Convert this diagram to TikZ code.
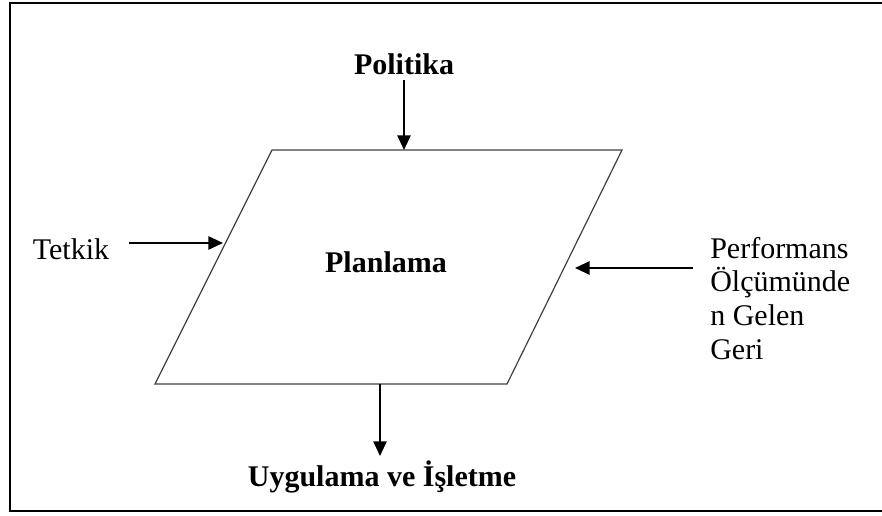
\documentclass[tikz,border=0pt]{standalone}
\usepackage{fontspec}
\setmainfont{Liberation Serif}
\usepackage{tikz}
\usetikzlibrary{arrows.meta,positioning}

\begin{document}
\begin{tikzpicture}[
  x=0.75pt,y=-0.75pt,
  lbl/.style={inner sep=0pt,font=\fontsize{22.5}{25.2}\selectfont},
  blbl/.style={lbl,font=\fontsize{22.5}{25.2}\selectfont\bfseries},
  arr/.style={-{Triangle[length=11pt,width=10pt]},line width=1.3pt},
  edge/.style={draw=black!75,line width=0.9pt}
]
  \useasboundingbox (0,0) rectangle (882,516);
  % frame (right side runs off the page)
  \draw[line width=1.6pt] (890,3) -- (10,3) -- (10,511) -- (890,511);

  % parallelogram
  \coordinate (tl) at (272,150);
  \coordinate (tr) at (622,150);
  \coordinate (br) at (507,384);
  \coordinate (bl) at (155,384);
  \draw[edge,line join=miter] (tl) -- (tr) -- (br) -- (bl) -- cycle;

  \node[blbl] (plan) at (386,262) {Planlama};
  \node[blbl] (pol) at (404,64) {Politika};
  \node[lbl] (tet) at (71,249) {Tetkik};
  \node[lbl,align=left,anchor=north west] (perf) at (710,237)
    {Performans\\Ölçümünde\\n Gelen\\Geri};
  \node[blbl] (uyg) at (382,477) {Uygulama ve İşletme};

  \coordinate (ptop) at (404,150);
  \coordinate (pleft) at (223,243);
  \coordinate (pright) at (575,268);
  \coordinate (pbot) at (380,384);
  \coordinate (tetR) at (129,243);
  \coordinate (perfL) at (693,268);
  \coordinate (uygT) at (380,456);

  \draw[arr] (pol.south) ++(0,5) -- (ptop);
  \draw[arr] (tetR) -- (pleft);
  \draw[arr] (perfL) -- (pright);
  \draw[arr] (pbot) -- (uygT);
\end{tikzpicture}
\end{document}
